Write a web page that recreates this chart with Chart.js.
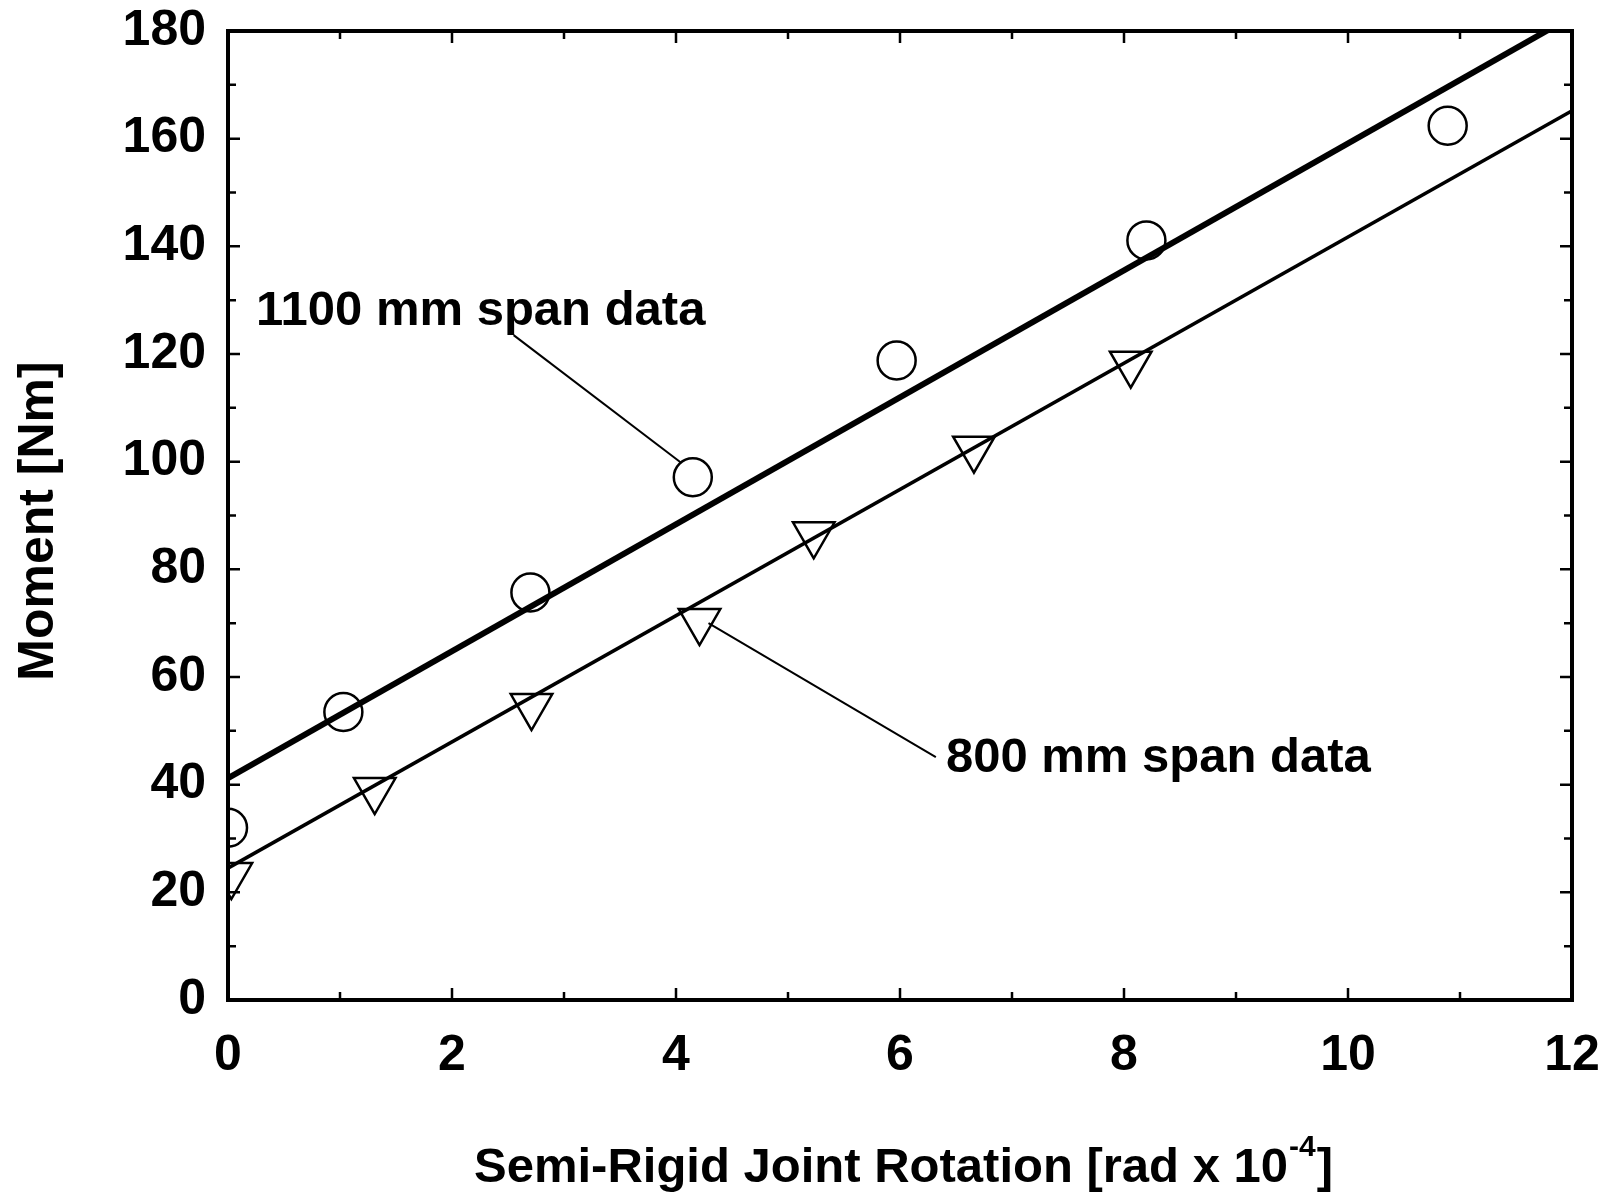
<!DOCTYPE html>
<html>
<head>
<meta charset="utf-8">
<script src="https://cdn.jsdelivr.net/npm/chart.js@4/dist/chart.umd.min.js"></script>
<style>
  html, body { margin: 0; padding: 0; background: #fff; }
  canvas { display: block; }
</style>
</head>
<body>
<canvas id="c" width="1609" height="1193"></canvas>
<script>
// ---- data ----
const span1100X = [0.00, 1.03, 2.70, 4.15, 5.97, 8.20, 10.89];
const span1100Y = [32.0, 53.5, 75.7, 97.1, 118.8, 141.1, 162.4];
const span800X  = [0.03, 1.31, 2.71, 4.21, 5.23, 6.66, 8.06];
const span800Y  = [23.2, 39.0, 54.6, 70.4, 86.5, 102.4, 118.2];
const fit1100X = [0, 12];
const fit1100Y = [41.2, 182.7];
const fit800X  = [0, 12];
const fit800Y  = [24.5, 165.2];
const leader1100X = [2.55, 4.04];
const leader1100Y = [123.5, 99.9];
const leader800X  = [6.32, 4.29];
const leader800Y  = [45.1, 70.0];
const xTickValues = [0, 2, 4, 6, 8, 10, 12];
const yTickValues = [0, 20, 40, 60, 80, 100, 120, 140, 160, 180];
const xTitle = 'Semi-Rigid Joint Rotation [rad x 10';
const xTitleSup = '-4';
const xTitleEnd = ']';
const yTitle = 'Moment [Nm]';
const label1100 = '1100 mm span data';
const label800 = '800 mm span data';
const label1100At = [0.25, 125.4];
const label800At = [6.41, 42.4];

const pts = (xs, ys) => xs.map((x, i) => ({ x, y: ys[i] }));
const FONT = '"Liberation Sans", Arial, Helvetica, sans-serif';

const framePlugin = {
  id: 'frame',
  afterDatasetsDraw(chart) {
    const { ctx, scales: { x, y } } = chart;
    ctx.save();
    ctx.fillStyle = '#000';
    ctx.textBaseline = 'alphabetic';
    ctx.textAlign = 'left';
    ctx.font = 'bold 49px ' + FONT;
    ctx.fillText(label1100, x.getPixelForValue(label1100At[0]), y.getPixelForValue(label1100At[1]));
    ctx.fillText(label800, x.getPixelForValue(label800At[0]), y.getPixelForValue(label800At[1]));
    ctx.restore();
  },
  afterDraw(chart) {
    const { ctx, chartArea: a, scales: { x, y } } = chart;
    ctx.save();
    ctx.strokeStyle = '#000';
    ctx.lineWidth = 2.5;
    ctx.beginPath();
    for (let v = x.min; v <= x.max; v += 1) {
      const px = x.getPixelForValue(v);
      const len = v % 2 === 0 ? 12 : 8;
      ctx.moveTo(px, a.bottom); ctx.lineTo(px, a.bottom - len);
      ctx.moveTo(px, a.top); ctx.lineTo(px, a.top + len);
    }
    for (let v = y.min; v <= y.max; v += 10) {
      const py = y.getPixelForValue(v);
      const len = v % 20 === 0 ? 12 : 8;
      ctx.moveTo(a.left, py); ctx.lineTo(a.left + len, py);
      ctx.moveTo(a.right, py); ctx.lineTo(a.right - len, py);
    }
    ctx.stroke();
    ctx.lineWidth = 4;
    ctx.strokeRect(a.left, a.top, a.right - a.left, a.bottom - a.top);

    // axis titles
    ctx.fillStyle = '#000';
    ctx.textBaseline = 'alphabetic';
    ctx.font = 'bold 49px ' + FONT;
    ctx.textAlign = 'left';
    const tx = 474, ty = 1182;
    ctx.fillText(xTitle, tx, ty);
    const w = ctx.measureText(xTitle).width;
    ctx.font = 'bold 30px ' + FONT;
    ctx.fillText(xTitleSup, tx + w + 1, ty - 26);
    const ws = ctx.measureText(xTitleSup).width;
    ctx.font = 'bold 49px ' + FONT;
    ctx.fillText(xTitleEnd, tx + w + ws + 2, ty);

    ctx.translate(53, 521);
    ctx.rotate(-Math.PI / 2);
    ctx.font = 'bold 50px ' + FONT;
    ctx.textAlign = 'center';
    ctx.fillText(yTitle, 0, 0);
    ctx.restore();
  }
};

new Chart(document.getElementById('c'), {
  type: 'scatter',
  data: {
    datasets: [
      { label: 'fit 1100', data: pts(fit1100X, fit1100Y), showLine: true, borderColor: '#000', borderWidth: 6, pointRadius: 0, fill: false },
      { label: 'fit 800', data: pts(fit800X, fit800Y), showLine: true, borderColor: '#000', borderWidth: 3.5, pointRadius: 0, fill: false },
      { label: 'leader 1100', data: pts(leader1100X, leader1100Y), showLine: true, borderColor: '#000', borderWidth: 2, pointRadius: 0, fill: false },
      { label: 'leader 800', data: pts(leader800X, leader800Y), showLine: true, borderColor: '#000', borderWidth: 2, pointRadius: 0, fill: false },
      { label: '1100 mm span data', data: pts(span1100X, span1100Y), pointStyle: 'circle', pointRadius: 19, pointBorderWidth: 2.5, pointBorderColor: '#000', pointBackgroundColor: 'rgba(0,0,0,0)' },
      { label: '800 mm span data', data: pts(span800X, span800Y), pointStyle: 'triangle', pointRotation: 180, pointRadius: 24, pointBorderWidth: 2.5, pointBorderColor: '#000', pointBackgroundColor: 'rgba(0,0,0,0)' }
    ]
  },
  options: {
    responsive: false,
    animation: false,
    devicePixelRatio: 1,
    events: [],
    layout: { padding: { top: 31, right: 37, left: 0, bottom: 0 } },
    plugins: { legend: { display: false }, tooltip: { enabled: false } },
    scales: {
      x: {
        type: 'linear', min: 0, max: 12,
        grid: { display: false }, border: { display: false },
        afterBuildTicks: s => { s.ticks = xTickValues.map(v => ({ value: v })); },
        afterFit: s => { s.height = 193; s.paddingLeft = 0; s.paddingRight = 0; s.paddingTop = 0; s.paddingBottom = 0; },
        ticks: { color: '#000', padding: 18, maxRotation: 0, font: { family: FONT, weight: 'bold', size: 50 } }
      },
      y: {
        type: 'linear', min: 0, max: 180,
        grid: { display: false }, border: { display: false },
        afterBuildTicks: s => { s.ticks = yTickValues.map(v => ({ value: v })); },
        afterFit: s => { s.width = 228; s.paddingLeft = 0; s.paddingRight = 0; s.paddingTop = 0; s.paddingBottom = 0; },
        ticks: { color: '#000', padding: 14, font: { family: FONT, weight: 'bold', size: 50 } }
      }
    }
  },
  plugins: [framePlugin]
});
</script>
</body>
</html>
